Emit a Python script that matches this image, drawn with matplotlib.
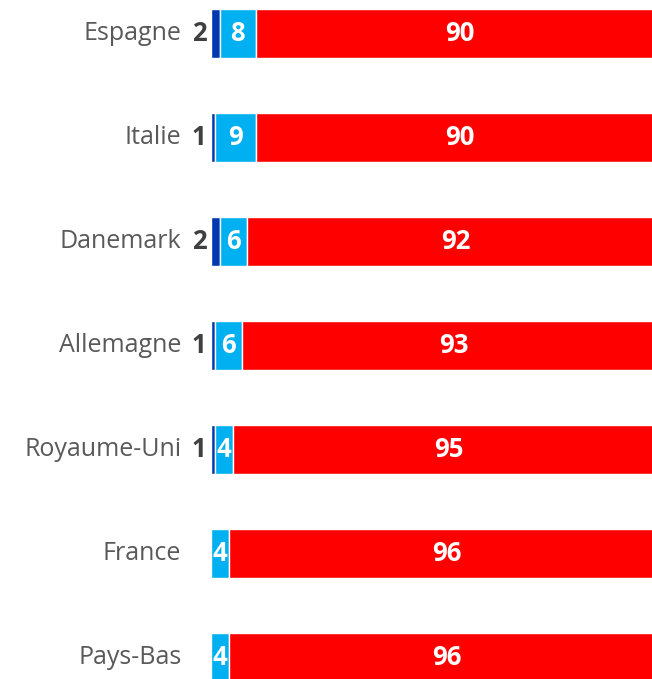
import matplotlib
matplotlib.use("Agg")
from matplotlib import pyplot as plt

# données
pays = ["Espagne", "Italie", "Danemark", "Allemagne", "Royaume-Uni", "France", "Pays-Bas"]
fonce = [2, 1, 2, 1, 1, 0, 0]
clair = [8, 9, 6, 6, 4, 4, 4]
rouge = [90, 90, 92, 93, 95, 96, 96]

c_fonce = "#0038B0"
c_clair = "#00B0F0"
c_rouge = "#FF0000"

plt.rcParams['font.family'] = ['Open Sans', 'DejaVu Sans']

fig = plt.figure(figsize=(6.52, 6.79), dpi=100)
# l'axe dépasse à droite, la barre rouge est coupée comme dans l'original
ax = fig.add_axes([210.5 / 652, 0, 454 / 652, 1])

ypos = list(range(len(pays)))
h = 0.47
ax.barh(ypos, fonce, height=h, color=c_fonce, edgecolor="white", linewidth=1)
ax.barh(ypos, clair, left=fonce, height=h, color=c_clair, edgecolor="white", linewidth=1)
gauche = [a + b for a, b in zip(fonce, clair)]
ax.barh(ypos, rouge, left=gauche, height=h, color=c_rouge, edgecolor="white", linewidth=1)

for i, p in enumerate(pays):
    ax.annotate(p, (0, i), xytext=(-21, 0), textcoords="offset points",
                ha="right", va="center", fontsize=18, color="#595959",
                annotation_clip=False)
    if fonce[i] > 0:
        ax.annotate(str(fonce[i]), (0, i), xytext=(-3, 0), textcoords="offset points",
                    ha="right", va="center", fontsize=18.5, fontweight="bold",
                    color="#404040", annotation_clip=False)
    ax.text(fonce[i] + clair[i] / 2, i, str(clair[i]), ha="center", va="center",
            fontsize=18.5, fontweight="bold", color="white")
    ax.text(gauche[i] + rouge[i] / 2, i, str(rouge[i]), ha="center", va="center",
            fontsize=18.5, fontweight="bold", color="white")

ax.set_xlim(0, 100)
ax.set_ylim(6.207, -0.322)
ax.axis("off")

fig.savefig("out.png", dpi=100)
